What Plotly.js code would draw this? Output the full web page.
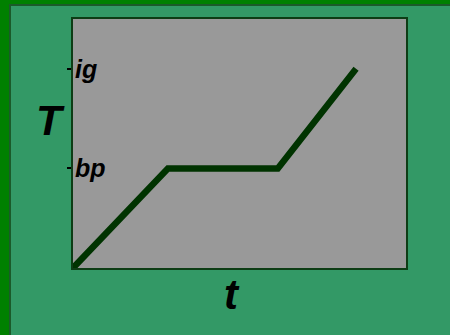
<!DOCTYPE html>
<html>
<head>
<meta charset="utf-8">
<script src="https://cdn.plot.ly/plotly-3.0.1.min.js"></script>
<style>
html,body{margin:0;padding:0;background:#339966;}
#outer{position:absolute;left:0;top:0;width:450px;height:335px;box-sizing:border-box;border-left:9px solid #008000;border-top:4px solid #008000;}
#inner{position:absolute;left:0;top:0;right:0;bottom:0;border-left:2px solid #1b5a2a;border-top:2px solid #1b5a2a;box-sizing:border-box;}
#chart{position:absolute;left:0;top:0;width:439px;height:329px;}
</style>
</head>
<body>
<div id="outer"><div id="inner"><div id="chart"></div></div></div>
<script>
// time (arbitrary units) and temperature (arbitrary units)
const timeValues = [0, 2.85, 6.15, 8.5];
const tempValues = [0, 2, 2, 4];
const tickValues = [2, 4];
const tickLabels = ['bp', 'ig'];
const xTitle = 't';
const yTitle = 'T';

const labelFont = {family: 'Liberation Sans, Arial, sans-serif', size: 25, color: '#000000', weight: 'bold', style: 'italic'};
const titleFont = {family: 'Liberation Sans, Arial, sans-serif', size: 42, color: '#000000', weight: 'bold', style: 'italic'};

const trace = {
  x: timeValues,
  y: tempValues,
  type: 'scatter',
  mode: 'lines',
  line: {color: '#003300', width: 6.5},
  hoverinfo: 'skip'
};

const layout = {
  width: 439,
  height: 329,
  margin: {l: 62, r: 44, t: 13, b: 67},
  paper_bgcolor: 'rgba(0,0,0,0)',
  plot_bgcolor: '#999999',
  showlegend: false,
  xaxis: {
    range: [0, 10],
    showticklabels: false,
    ticks: '',
    showgrid: false,
    zeroline: false,
    showline: true,
    mirror: true,
    linecolor: '#0d3d15',
    linewidth: 2,
    fixedrange: true
  },
  yaxis: {
    range: [0, 5],
    tickmode: 'array',
    tickvals: tickValues,
    ticktext: tickLabels,
    ticks: 'outside',
    ticklen: 4,
    tickwidth: 2,
    tickcolor: '#000000',
    ticklabelposition: 'inside',
    ticklabelstandoff: 4,
    tickfont: labelFont,
    showgrid: false,
    zeroline: false,
    showline: true,
    mirror: true,
    linecolor: '#0d3d15',
    linewidth: 2,
    fixedrange: true
  },
  annotations: [
    {text: yTitle, xref: 'paper', yref: 'paper', x: -0.069, y: 0.594, xanchor: 'center', yanchor: 'middle', showarrow: false, font: titleFont},
    {text: xTitle, xref: 'paper', yref: 'paper', x: 0.477, y: -0.108, xanchor: 'center', yanchor: 'middle', showarrow: false, font: titleFont}
  ]
};

Plotly.newPlot('chart', [trace], layout, {displayModeBar: false, staticPlot: true});
</script>
</body>
</html>
